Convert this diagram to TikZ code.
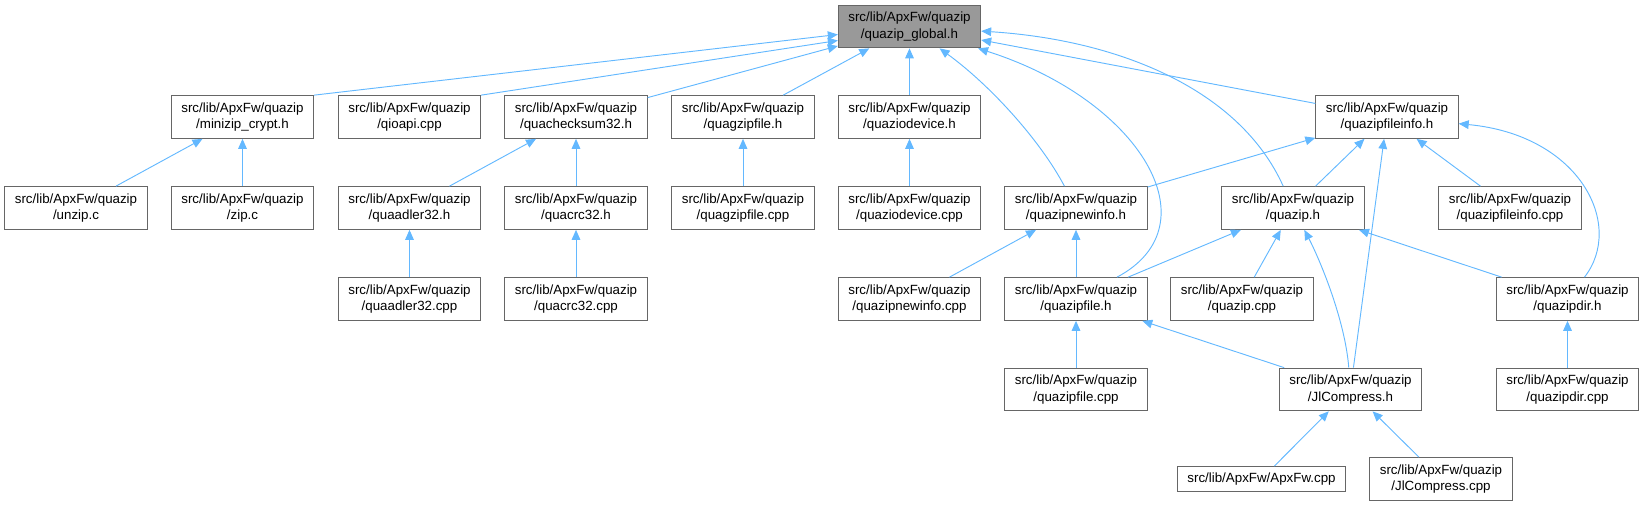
\documentclass[tikz,border=0pt]{standalone}
\usepackage{fontspec}
\setmainfont{Liberation Sans}
\usetikzlibrary{arrows.meta}

\definecolor{edgeblue}{HTML}{63B8FF}
\definecolor{boxline}{HTML}{666666}
\definecolor{boxfill}{HTML}{999999}

\tikzset{
  file/.style={draw=boxline, fill=white, line width=0.8pt, align=center,
    minimum width=106.5pt, minimum height=32pt, inner xsep=7.5pt, inner ysep=1pt,
    font=\fontsize{10}{12.5}\selectfont},
  dep/.style={->, draw=edgeblue, line width=0.7pt},
}

\begin{document}
\begin{tikzpicture}[x=0.75pt, y=-0.75pt, >={Triangle[length=7.5pt,width=6.5pt]}]
    \useasboundingbox (0,0) rectangle (1644,507);

    % Top header
    \node[file, fill=boxfill] (global) at (909.5, 26.5) {src/lib/ApxFw/quazip\\/quazip\_global.h};

    % First row
    \node[file] (crypt) at (242.5, 117) {src/lib/ApxFw/quazip\\/minizip\_crypt.h};
    \node[file] (qioapi) at (409.5, 117) {src/lib/ApxFw/quazip\\/qioapi.cpp};
    \node[file] (checksum) at (576, 117) {src/lib/ApxFw/quazip\\/quachecksum32.h};
    \node[file] (gzip) at (743, 117) {src/lib/ApxFw/quazip\\/quagzipfile.h};
    \node[file] (iodev) at (909.5, 117) {src/lib/ApxFw/quazip\\/quaziodevice.h};
    \node[file] (finfo) at (1387, 117) {src/lib/ApxFw/quazip\\/quazipfileinfo.h};

    % Second row
    \node[file] (unzip) at (76, 208) {src/lib/ApxFw/quazip\\/unzip.c};
    \node[file] (zipc) at (242.5, 208) {src/lib/ApxFw/quazip\\/zip.c};
    \node[file] (adler) at (409.5, 208) {src/lib/ApxFw/quazip\\/quaadler32.h};
    \node[file] (crc) at (576, 208) {src/lib/ApxFw/quazip\\/quacrc32.h};
    \node[file] (gzipcpp) at (743, 208) {src/lib/ApxFw/quazip\\/quagzipfile.cpp};
    \node[file] (iodevcpp) at (909.5, 208) {src/lib/ApxFw/quazip\\/quaziodevice.cpp};
    \node[file] (newinfo) at (1076, 208) {src/lib/ApxFw/quazip\\/quazipnewinfo.h};
    \node[file] (quazip) at (1293, 208) {src/lib/ApxFw/quazip\\/quazip.h};
    \node[file] (finfocpp) at (1510, 208) {src/lib/ApxFw/quazip\\/quazipfileinfo.cpp};

    % Third row
    \node[file] (adlercpp) at (409.5, 299) {src/lib/ApxFw/quazip\\/quaadler32.cpp};
    \node[file] (crccpp) at (576, 299) {src/lib/ApxFw/quazip\\/quacrc32.cpp};
    \node[file] (newinfocpp) at (909.5, 299) {src/lib/ApxFw/quazip\\/quazipnewinfo.cpp};
    \node[file] (zfile) at (1076, 299) {src/lib/ApxFw/quazip\\/quazipfile.h};
    \node[file] (quazipcpp) at (1242, 299) {src/lib/ApxFw/quazip\\/quazip.cpp};
    \node[file] (zdir) at (1567.5, 299) {src/lib/ApxFw/quazip\\/quazipdir.h};

    % Fourth and fifth rows
    \node[file] (zfilecpp) at (1076, 389.5) {src/lib/ApxFw/quazip\\/quazipfile.cpp};
    \node[file] (jlc) at (1350.5, 389.5) {src/lib/ApxFw/quazip\\/JlCompress.h};
    \node[file] (zdircpp) at (1567.5, 389.5) {src/lib/ApxFw/quazip\\/quazipdir.cpp};
    \node[file, minimum height=18.75pt] (apxfw) at (1261.5, 479) {src/lib/ApxFw/ApxFw.cpp};
    \node[file] (jlccpp) at (1441, 479) {src/lib/ApxFw/quazip\\/JlCompress.cpp};

    % Includes of quazip_global.h
    \draw[dep] (crypt.north east) -- ([yshift=-6pt]global.west);
    \draw[dep] (qioapi.north east) -- ([yshift=-10.5pt]global.west);
    \draw[dep] (checksum) -- (global);
    \draw[dep] (gzip) -- (global);
    \draw[dep] (iodev) -- (global);
    \draw[dep] (finfo) -- (global);
    \draw[dep] (newinfo) .. controls (1040,140) and (990,85) .. (global);
    \draw[dep] (zfile) .. controls (1215,225) and (1140,100) .. (global);
    \draw[dep] (quazip) .. controls (1240,90) and (1120,40) .. (global);

    % Other includes
    \draw[dep] (unzip) -- (crypt);
    \draw[dep] (zipc) -- (crypt);
    \draw[dep] (adler) -- (checksum);
    \draw[dep] (crc) -- (checksum);
    \draw[dep] (adlercpp) -- (adler);
    \draw[dep] (crccpp) -- (crc);
    \draw[dep] (gzipcpp) -- (gzip);
    \draw[dep] (iodevcpp) -- (iodev);
    \draw[dep] (newinfo) -- (finfo);
    \draw[dep] (quazip) -- (finfo);
    \draw[dep] (finfocpp) -- (finfo);
    \draw[dep] (jlc) -- (finfo);
    \draw[dep] (zdir) .. controls (1625,225) and (1580,135) .. (finfo);
    \draw[dep] (newinfocpp) -- (newinfo);
    \draw[dep] (zfile) -- (newinfo);
    \draw[dep] (zfile) -- (quazip);
    \draw[dep] (quazipcpp) -- (quazip);
    \draw[dep] (jlc) .. controls (1345,320) and (1320,260) .. (quazip);
    \draw[dep] (zdir) -- (quazip);
    \draw[dep] (zfilecpp) -- (zfile);
    \draw[dep] (jlc) -- (zfile);
    \draw[dep] (zdircpp) -- (zdir);
    \draw[dep] (apxfw) -- (jlc);
    \draw[dep] (jlccpp) -- (jlc);
  \end{tikzpicture}
\end{document}
